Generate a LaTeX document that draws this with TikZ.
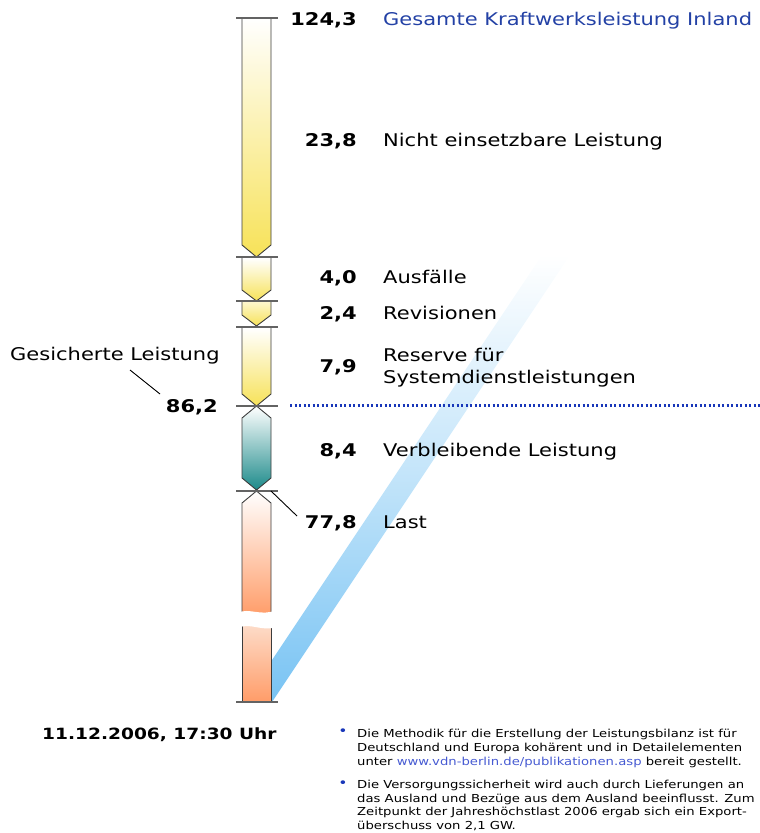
\documentclass[tikz,border=0pt]{standalone}
\usepackage{fontspec}
\setmainfont{DejaVu Sans}[FakeStretch=1.2]
\definecolor{yel}{RGB}{247,226,88}
\definecolor{teal1}{RGB}{28,138,138}
\definecolor{orng}{RGB}{255,156,104}
\definecolor{orngl}{RGB}{253,222,204}
\definecolor{bandb}{RGB}{120,195,243}
\definecolor{ttlblue}{RGB}{35,65,165}
\definecolor{linkblue}{RGB}{70,90,210}
\definecolor{dotblue}{RGB}{25,55,185}
\definecolor{edge}{RGB}{60,60,60}
\begin{document}
\begin{tikzpicture}[x=1pt,y=-1pt,
  segline/.style={draw=edge, line width=0.9pt, line join=miter},
  tickline/.style={draw=edge!80, line width=1.3pt},
  num/.style={anchor=base east, font=\fontsize{17.5}{20}\selectfont\bfseries, inner sep=0pt},
  lbl/.style={anchor=base west, font=\fontsize{17.5}{20}\selectfont, inner sep=0pt},
  bul/.style={anchor=base, text=dotblue, font=\fontsize{13}{14}\selectfont, inner sep=0pt},
  note/.style={anchor=north west, font=\fontsize{11}{14.2}\selectfont, inner sep=0pt, align=left}]
\useasboundingbox (0,0) rectangle (760,833);
% band
\shade[top color=white, bottom color=bandb, middle color=bandb!45] (244,702) -- (272,702) -- (570,255) -- (542,255) -- cycle;
% segment 1
\shade[top color=white, bottom color=yel] (242,18) -- (271,18) -- (271,245) -- (256.5,257) -- (242,245) -- cycle;
\draw[segline] (242,18) -- (242,245) -- (256.5,257) -- (271,245) -- (271,18);
% segment 2
\shade[top color=white, bottom color=yel] (242,258) -- (271,258) -- (271,290) -- (256.5,301) -- (242,290) -- cycle;
\draw[segline] (242,258) -- (242,290) -- (256.5,301) -- (271,290) -- (271,258);
% segment 3
\shade[top color=yel!30, bottom color=yel] (242,302) -- (271,302) -- (271,315) -- (256.5,326) -- (242,315) -- cycle;
\draw[segline] (242,302) -- (242,315) -- (256.5,326) -- (271,315) -- (271,302);
% segment 4
\shade[top color=white, bottom color=yel] (242,328) -- (271,328) -- (271,394) -- (256.5,406) -- (242,394) -- cycle;
\draw[segline] (242,328) -- (242,394) -- (256.5,406) -- (271,394) -- (271,328);
% segment 5
\shade[top color=white, bottom color=teal1] (256.5,406) -- (271,418) -- (271,478) -- (256.5,490) -- (242,478) -- (242,418) -- cycle;
\draw[segline] (256.5,406) -- (271,418) -- (271,478) -- (256.5,490) -- (242,478) -- (242,418) -- cycle;
% segment 6 upper
\shade[top color=white, bottom color=orng] (256.5,491) -- (271,503) -- (271,616) -- (242,616) -- (242,503) -- cycle;
\draw[segline] (242,616) -- (242,503) -- (256.5,491) -- (271,503) -- (271,616);
% segment 6 lower
\shade[top color=orngl, bottom color=orng] (242,622) -- (271,622) -- (271,702) -- (242,702) -- cycle;
\draw[segline] (242,622) -- (242,702);
\draw[segline] (271,622) -- (271,702);
% break
\fill[white] (238,613) .. controls (248,607) and (262,617) .. (276,610) -- (276,627) .. controls (262,632) and (250,622) .. (238,628) -- cycle;
% ticks
\foreach \yy in {18,257,301,327,406,491,702}
  \draw[tickline] (236,\yy) -- (278,\yy);
% numbers and labels
\node[num] (n1) at (357,25.5) {124,3};
\node[lbl, text=ttlblue] (l1) at (383,25.5) {Gesamte Kraftwerksleistung Inland};
\node[num] (n2) at (357,146.5) {23,8};
\node[lbl] (l2) at (383,146.5) {Nicht einsetzbare Leistung};
\node[num] (n3) at (357,283.5) {4,0};
\node[lbl] (l3) at (383,283.5) {Ausfälle};
\node[num] (n4) at (357,319.5) {2,4};
\node[lbl] (l4) at (383,319.5) {Revisionen};
\node[num] (n5) at (357,372.5) {7,9};
\node[lbl] (l5a) at (383,361) {Reserve für};
\node[lbl] (l5b) at (383,383.5) {Systemdienstleistungen};
\node[num] (n6) at (357,456.5) {8,4};
\node[lbl] (l6) at (383,456.5) {Verbleibende Leistung};
\node[num] (n7) at (357,528.5) {77,8};
\node[lbl] (l7) at (383,528.5) {Last};
\node[lbl] (gl) at (10,360) {Gesicherte Leistung};
\node[num] (n8) at (218,412.5) {86,2};
\coordinate (g1) at (130,370);
\coordinate (g2) at (160,394);
\draw[line width=0.9pt] (g1) -- (g2);
\coordinate (t1) at (271,491);
\coordinate (t2) at (297,516);
\draw[line width=0.9pt] (t1) -- (t2);
\coordinate (d1) at (290,405.5);
\coordinate (d2) at (760,405.5);
\draw[dotblue, line width=2.2pt, dash pattern=on 2.2pt off 2.3pt] (d1) -- (d2);
\node[lbl, font=\fontsize{15.5}{20}\selectfont\bfseries] (date) at (42,739) {11.12.2006, 17:30 Uhr};
% notes
\node[bul] (b1) at (343,735) {•};
\node[note] (f1) at (357,729) {Die Methodik für die Erstellung der Leistungsbilanz ist für\\Deutschland und Europa kohärent und in Detailelementen\\unter {\color{linkblue}www.vdn-berlin.de/publikationen.asp} bereit gestellt.};
\node[bul] (b2) at (343,787) {•};
\node[note, font=\fontsize{11}{13.6}\selectfont] (f2) at (357,780) {Die Versorgungssicherheit wird auch durch Lieferungen an\\das Ausland und Bezüge aus dem Ausland beeinflusst. Zum\\Zeitpunkt der Jahreshöchstlast 2006 ergab sich ein Export-\\überschuss von 2,1 GW.};
\end{tikzpicture}
\end{document}
